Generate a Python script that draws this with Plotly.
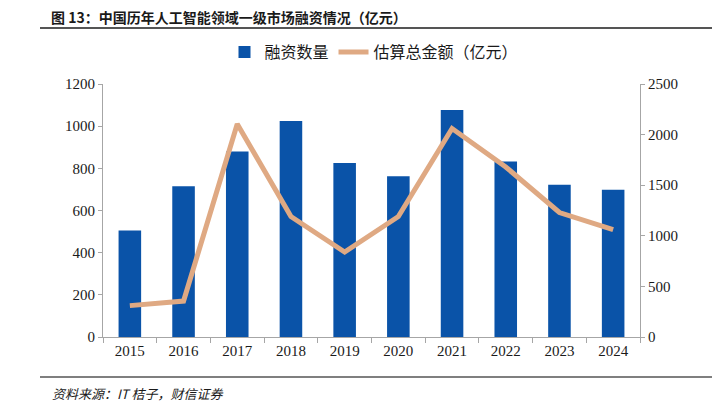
import plotly.graph_objects as go

years = ["2015", "2016", "2017", "2018", "2019", "2020", "2021", "2022", "2023", "2024"]
deal_count = [505, 715, 880, 1025, 825, 762, 1077, 832, 722, 698]
total_amount = [310, 355, 2105, 1190, 840, 1190, 2060, 1680, 1230, 1060]

# page body adds an 8px offset; design in screen pixels and convert
OFF = 8
W, H = 712, 400
PL, PR, PT, PB = 103, 640, 84, 337  # plot area in screen pixels
L, T = PL - OFF, PT - OFF
R = W - (PR - OFF)
B = H - (PB - OFF)
pw, ph = W - L - R, H - T - B

def px_x(x):
    return (x - PL) / pw

def px_y(y):
    return (PB - y) / ph

fig = go.Figure()
fig.add_trace(go.Bar(
    x=years, y=deal_count, name="融资数量",
    marker=dict(color="#0A53A8", line=dict(width=0)),
    yaxis="y",
))
fig.add_trace(go.Scatter(
    x=years, y=total_amount, name="估算总金额（亿元）",
    mode="lines", line=dict(color="#DFA983", width=5),
    yaxis="y2",
))

tick_font = dict(family="Liberation Serif, Times New Roman, serif", size=15, color="#1a1a1a")
fig.update_layout(
    width=W, height=H,
    margin=dict(l=L, r=R, t=T, b=B),
    paper_bgcolor="white", plot_bgcolor="white",
    bargap=0.58,
    showlegend=True,
    legend=dict(
        orientation="h", x=px_x(374), xanchor="center", y=px_y(52), yanchor="middle",
        font=dict(family="Noto Sans CJK SC", size=16, color="#1a1a1a"),
        itemwidth=30, traceorder="normal",
    ),
    xaxis=dict(
        type="category", showgrid=False, showline=True, linecolor="#a6a6a6", linewidth=1,
        ticks="outside", tickson="boundaries", ticklen=5, tickcolor="#a6a6a6",
        tickfont=tick_font, zeroline=False,
    ),
    yaxis=dict(
        range=[0, 1200], dtick=200, showgrid=False, showline=True, linecolor="#a6a6a6",
        ticks="outside", ticklen=4, tickcolor="#a6a6a6", tickfont=tick_font, zeroline=False,
    ),
    yaxis2=dict(
        range=[0, 2500], dtick=500, overlaying="y", side="right", showgrid=False,
        showline=True, linecolor="#a6a6a6", ticks="outside", ticklen=4, tickcolor="#a6a6a6",
        tickfont=tick_font, zeroline=False,
    ),
    annotations=[
        dict(text="<b>图 13：中国历年人工智能领域一级市场融资情况（亿元）</b>",
             xref="paper", yref="paper", x=px_x(50), y=px_y(17), xanchor="left", yanchor="middle",
             showarrow=False, borderpad=0,
             font=dict(family="Noto Sans CJK SC", size=14, color="#1a1a1a")),
        dict(text="<i>资料来源：IT 桔子，财信证券</i>",
             xref="paper", yref="paper", x=px_x(50), y=px_y(393), xanchor="left", yanchor="middle",
             showarrow=False, font=dict(family="Noto Sans CJK SC", size=13, color="#1a1a1a")),
    ],
    shapes=[
        dict(type="line", xref="paper", yref="paper", x0=px_x(40), x1=px_x(712),
             y0=px_y(28), y1=px_y(28), line=dict(color="#555555", width=2)),
        dict(type="line", xref="paper", yref="paper", x0=px_x(40), x1=px_x(712),
             y0=px_y(377), y1=px_y(377), line=dict(color="#555555", width=1.5)),
    ],
)

fig.write_html("out.html")
